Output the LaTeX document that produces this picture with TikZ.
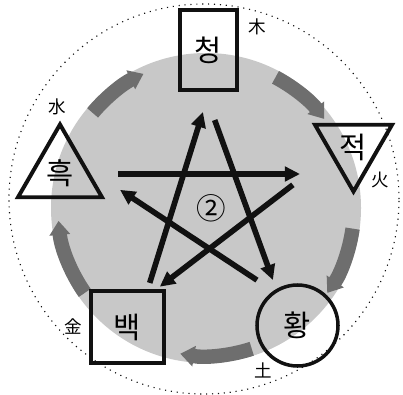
\documentclass[tikz,border=0pt]{standalone}
\usepackage{fontspec}
\newfontfamily\kr{Noto Sans CJK KR}
\usepackage{tikz}
\usetikzlibrary{arrows.meta,shapes.geometric}
\definecolor{ink}{HTML}{111111}
\definecolor{halo}{HTML}{C8C8C8}
\definecolor{band}{HTML}{6E6E6E}

\begin{document}
\begin{tikzpicture}[x=0.25mm,y=0.25mm,
   el/.style={draw=ink,line width=2.8pt,inner sep=0pt,font=\kr\fontsize{21}{21}\selectfont},
   tri/.style={el,regular polygon,regular polygon sides=3},
   han/.style={inner sep=0pt,font=\kr\fontsize{12.5}{12.5}\selectfont},
   sarr/.style={ink,line width=4pt,-{Triangle[length=3.8mm,width=3.6mm]}},
   cyc/.style={band,line width=3.6mm,-{Triangle[length=3.5mm,width=5mm]}}]
  \useasboundingbox (0,0) rectangle (403,394);
  % disc and cycle
  \coordinate (ctr) at (206,186);
  \fill[halo] (ctr) circle[radius=155];
  \foreach \a/\b in {140/115,62/37,-8/-35,-72/-100,-145/-175}{
    \draw[cyc] ([shift={(\a:148)}]ctr) arc[start angle=\a,end angle=\b,radius=148];}
  \draw[ink,line width=0.8pt,dash pattern=on 0.8pt off 3.4pt] (204,195) circle[radius=195];
  % the five
  \node[el,rectangle,minimum width=14.25mm,minimum height=20mm] (qing) at (208.5,344) {청};
  \node[tri,shape border rotate=180,minimum size=22.25mm] (jeok) at (353.5,247) {적};
  \node[el,circle,line width=2.5pt,minimum size=20.25mm] (hwang) at (297.5,68.5) {황};
  \node[el,rectangle,minimum width=18.25mm,minimum height=18mm] (baek) at (127.5,67) {백};
  \node[tri,minimum size=24.25mm] (heuk) at (60,221) {흑};
  \node[han] (mok) at (257,367) {木};
  \node[han] (hwa) at (380,214) {火};
  \node[han] (to) at (263,24) {土};
  \node[han] (geum) at (73,67) {金};
  \node[han] (su) at (57,287) {水};
  % star
  \coordinate (t) at (207,295); \coordinate (r) at (307,220);
  \coordinate (br) at (278,100); \coordinate (bl) at (145,96);
  \coordinate (l) at (96,220);
  \foreach \a/\b/\s/\e in {t/br/5.6/3.7,br/l/6.3/7.2,l/r/5.5/1.75,r/bl/4.45/4.65,bl/t/3.95/3.4}{
    \draw[sarr,shorten <=\s mm,shorten >=\e mm] (\a) -- (\b);}
  \node[inner sep=0pt,font=\kr\fontsize{21}{21}\selectfont] (two) at (211,186) {②};
\end{tikzpicture}
\end{document}
